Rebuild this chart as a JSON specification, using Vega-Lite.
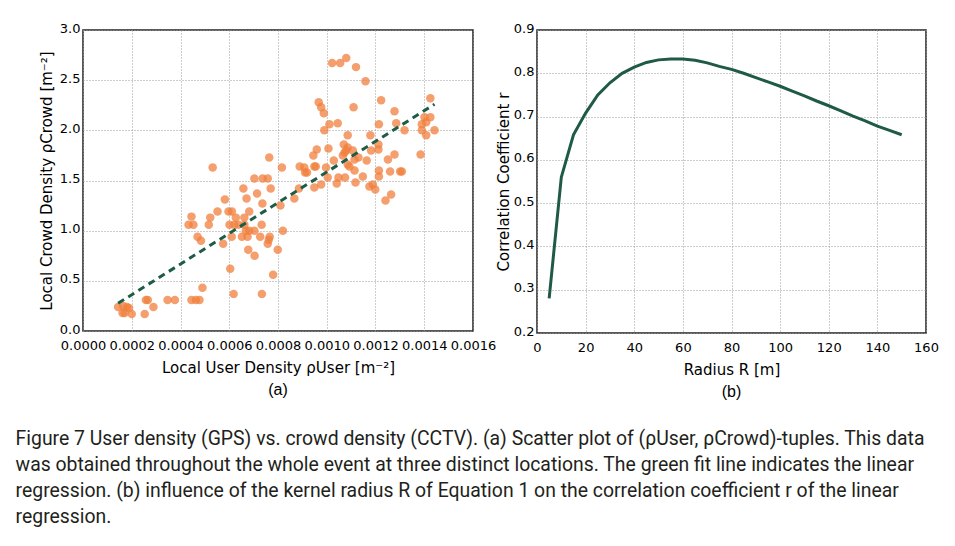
{
  "$schema": "https://vega.github.io/schema/vega-lite/v6.json",
  "background": "white",
  "padding": {"left": 15, "top": 21, "right": 5, "bottom": 5},
  "spacing": -2,
  "title": {
    "text": [
      "Figure 7  User density (GPS) vs. crowd density (CCTV). (a) Scatter plot of (ρUser, ρCrowd)-tuples. This data",
      "was obtained throughout the whole event at three distinct locations. The green fit line indicates the linear",
      "regression. (b) influence of the kernel radius R of Equation 1 on the correlation coefficient r of the linear",
      "regression."
    ],
    "orient": "bottom",
    "anchor": "start",
    "font": "Roboto",
    "fontSize": 19.4,
    "fontWeight": "normal",
    "color": "#231f20",
    "lineHeight": 26,
    "offset": 29,
    "dx": -23
  },
  "datasets": {
    "scatter": [
      {"u":0.000144,"c":0.24},{"u":0.000162,"c":0.18},{"u":0.000171,"c":0.18},{"u":0.00018,"c":0.24},{"u":0.000189,"c":0.23},{"u":0.0002,"c":0.17},{"u":0.000165,"c":0.25},
      {"u":0.000253,"c":0.17},{"u":0.000258,"c":0.31},{"u":0.000266,"c":0.31},{"u":0.000289,"c":0.24},{"u":0.000347,"c":0.31},{"u":0.000377,"c":0.31},
      {"u":0.000445,"c":0.31},{"u":0.000463,"c":0.31},{"u":0.000478,"c":0.31},{"u":0.00049,"c":0.43},{"u":0.000618,"c":0.37},{"u":0.000734,"c":0.37},
      {"u":0.000604,"c":0.62},{"u":0.00078,"c":0.56},{"u":0.000799,"c":0.81},{"u":0.000678,"c":0.81},{"u":0.000704,"c":0.75},{"u":0.000575,"c":0.87},
      {"u":0.000758,"c":0.87},{"u":0.000762,"c":0.91},{"u":0.00047,"c":0.94},{"u":0.000484,"c":0.9},{"u":0.00061,"c":0.94},{"u":0.000652,"c":0.94},{"u":0.000675,"c":0.94},{"u":0.000727,"c":0.94},{"u":0.000766,"c":0.94},
      {"u":0.00082,"c":1.0},{"u":0.000668,"c":1.0},{"u":0.000682,"c":1.0},{"u":0.000703,"c":1.0},
      {"u":0.000433,"c":1.06},{"u":0.000453,"c":1.06},{"u":0.000516,"c":1.06},{"u":0.000601,"c":1.06},{"u":0.000621,"c":1.06},{"u":0.000637,"c":1.06},{"u":0.000662,"c":1.06},{"u":0.000733,"c":1.06},
      {"u":0.000445,"c":1.14},{"u":0.000522,"c":1.13},{"u":0.000552,"c":1.19},{"u":0.000597,"c":1.19},{"u":0.000611,"c":1.19},{"u":0.000627,"c":1.13},{"u":0.000662,"c":1.13},{"u":0.000682,"c":1.19},
      {"u":0.000582,"c":1.31},{"u":0.000671,"c":1.32},{"u":0.000714,"c":1.37},{"u":0.000658,"c":1.42},{"u":0.000736,"c":1.27},{"u":0.00077,"c":1.42},{"u":0.00081,"c":1.25},
      {"u":0.000703,"c":1.52},{"u":0.000737,"c":1.52},{"u":0.000758,"c":1.52},{"u":0.000764,"c":1.73},{"u":0.000816,"c":1.63},{"u":0.000532,"c":1.63},
      {"u":0.000867,"c":1.32},{"u":0.000886,"c":1.42},{"u":0.000889,"c":1.64},{"u":0.000908,"c":1.63},{"u":0.000911,"c":1.58},{"u":0.000919,"c":1.58},
      {"u":0.000949,"c":1.64},{"u":0.000955,"c":1.64},{"u":0.000949,"c":1.43},{"u":0.000959,"c":1.81},{"u":0.000945,"c":1.75},{"u":0.000977,"c":1.46},{"u":0.000997,"c":1.63},{"u":0.001004,"c":1.53},{"u":0.001007,"c":1.82},
      {"u":0.000967,"c":2.28},{"u":0.000977,"c":2.23},{"u":0.000988,"c":2.17},{"u":0.00099,"c":2.0},{"u":0.001011,"c":2.06},{"u":0.001045,"c":2.07},
      {"u":0.001022,"c":2.67},{"u":0.001055,"c":2.67},{"u":0.00108,"c":2.72},{"u":0.00112,"c":2.63},{"u":0.001159,"c":2.49},{"u":0.00111,"c":2.23},
      {"u":0.001029,"c":1.7},{"u":0.001041,"c":1.47},{"u":0.001048,"c":1.53},{"u":0.001066,"c":1.75},{"u":0.001073,"c":1.78},{"u":0.001075,"c":1.53},{"u":0.001086,"c":1.83},{"u":0.001086,"c":1.66},{"u":0.001093,"c":1.64},{"u":0.001086,"c":1.95},
      {"u":0.00107,"c":1.86},{"u":0.00108,"c":1.8},{"u":0.001107,"c":1.8},{"u":0.001114,"c":1.71},{"u":0.001114,"c":1.6},{"u":0.001118,"c":1.48},{"u":0.00113,"c":1.73},{"u":0.001148,"c":1.54},{"u":0.001164,"c":1.7},{"u":0.001182,"c":1.8},{"u":0.001179,"c":1.95},
      {"u":0.001175,"c":1.44},{"u":0.001189,"c":1.46},{"u":0.001199,"c":1.41},{"u":0.001212,"c":1.86},{"u":0.001212,"c":1.81},{"u":0.001214,"c":1.6},{"u":0.001214,"c":1.54},{"u":0.001223,"c":2.3},{"u":0.001214,"c":2.06},{"u":0.001241,"c":1.3},{"u":0.001251,"c":1.71},{"u":0.001264,"c":1.36},{"u":0.00126,"c":1.59},{"u":0.001278,"c":1.76},{"u":0.001278,"c":2.19},{"u":0.001285,"c":2.07},{"u":0.001301,"c":1.59},{"u":0.001308,"c":1.59},{"u":0.001319,"c":2.0},
      {"u":0.001385,"c":1.76},{"u":0.00139,"c":2.06},{"u":0.00139,"c":2.0},{"u":0.001401,"c":2.13},{"u":0.001408,"c":1.95},{"u":0.001425,"c":2.13},{"u":0.001425,"c":2.32},{"u":0.001442,"c":2.0},{"u":0.001408,"c":2.08}
    ],
    "fit": [
      {"u":0.000144,"c":0.276},{"u":0.001442,"c":2.26}
    ],
    "corr": [
      {"R":5,"r":0.28},{"R":10,"r":0.56},{"R":15,"r":0.658},{"R":20,"r":0.708},{"R":25,"r":0.75},{"R":30,"r":0.778},
      {"R":35,"r":0.8},{"R":40,"r":0.814},{"R":45,"r":0.825},{"R":50,"r":0.831},{"R":55,"r":0.833},{"R":60,"r":0.833},
      {"R":65,"r":0.83},{"R":70,"r":0.824},{"R":75,"r":0.816},{"R":80,"r":0.809},{"R":85,"r":0.8},{"R":90,"r":0.79},
      {"R":95,"r":0.78},{"R":100,"r":0.77},{"R":105,"r":0.759},{"R":110,"r":0.748},{"R":115,"r":0.736},{"R":120,"r":0.725},
      {"R":125,"r":0.713},{"R":130,"r":0.701},{"R":135,"r":0.69},{"R":140,"r":0.678},{"R":145,"r":0.668},{"R":150,"r":0.658}
    ]
  },
  "hconcat": [
    {
      "width": 390,
      "height": 301,
      "title": {"text": "(a)", "orient": "bottom", "font": "Liberation Sans", "fontSize": 16, "fontWeight": "normal", "offset": 7},
      "layer": [
        {
          "data": {"name": "scatter"},
          "mark": {"type": "circle", "size": 72, "color": "#f07f3c", "opacity": 0.75},
          "encoding": {
            "x": {"field": "u", "type": "quantitative", "scale": {"domain": [0, 0.0016], "nice": false, "zero": false},
                  "axis": {"title": "Local User Density ρUser [m⁻²]", "values": [0,0.0002,0.0004,0.0006,0.0008,0.001,0.0012,0.0014,0.0016], "format": ".4f"}},
            "y": {"field": "c", "type": "quantitative", "scale": {"domain": [0, 3], "nice": false, "zero": false},
                  "axis": {"title": "Local Crowd Density ρCrowd [m⁻²]", "titlePadding": 5, "labelOffset": -2, "values": [0,0.5,1,1.5,2,2.5,3], "format": ".1f"}}
          }
        },
        {
          "data": {"name": "fit"},
          "mark": {"type": "line", "strokeDash": [7, 5], "strokeWidth": 3, "color": "#1d5c47"},
          "encoding": {
            "x": {"field": "u", "type": "quantitative"},
            "y": {"field": "c", "type": "quantitative"}
          }
        }
      ]
    },
    {
      "width": 389,
      "height": 303,
      "title": {"text": "(b)", "orient": "bottom", "font": "Liberation Sans", "fontSize": 16, "fontWeight": "normal", "offset": 7},
      "data": {"name": "corr"},
      "mark": {"type": "line", "strokeWidth": 3, "color": "#1f5a45"},
      "encoding": {
        "x": {"field": "R", "type": "quantitative", "scale": {"domain": [0, 160], "nice": false},
              "axis": {"title": "Radius R [m]", "values": [0,20,40,60,80,100,120,140,160], "format": "d"}},
        "y": {"field": "r", "type": "quantitative", "scale": {"domain": [0.2, 0.9], "nice": false, "zero": false},
              "axis": {"title": "Correlation Coefficient r", "titlePadding": 2, "labelOffset": -2, "values": [0.2,0.3,0.4,0.5,0.6,0.7,0.8,0.9], "format": ".1f"}}
      }
    }
  ],
  "config": {
    "view": {"stroke": "#222222", "strokeWidth": 1.5},
    "axis": {
      "grid": true,
      "gridColor": "#9a9a9a",
      "gridDash": [1, 2],
      "gridWidth": 1,
      "ticks": false,
      "domain": false,
      "labelFont": "DejaVu Sans",
      "labelFontSize": 13,
      "labelColor": "#000000",
      "labelOverlap": false,
      "labelBound": false,
      "labelFlush": false,
      "titleFont": "DejaVu Sans",
      "titleFontSize": 15,
      "titleFontWeight": "normal",
      "titleColor": "#000000"
    },
    "axisX": {"titlePadding": 8, "labelPadding": 8},
    "axisY": {"labelPadding": 3}
  }
}
